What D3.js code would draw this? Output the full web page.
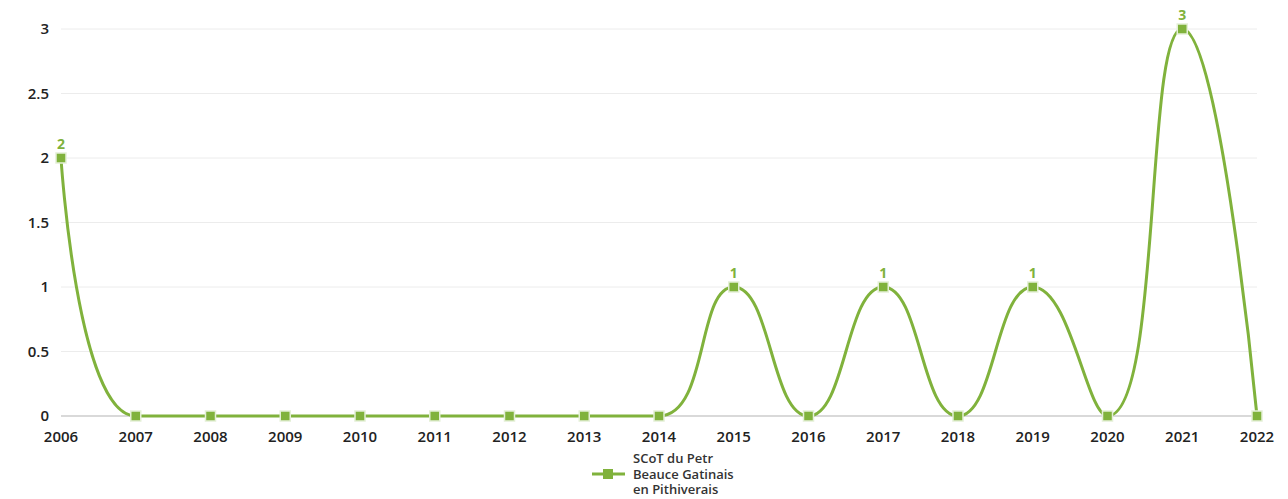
<!DOCTYPE html>
<html><head><meta charset="utf-8">
<script src="https://cdn.jsdelivr.net/npm/d3@7"></script>
<style>
html,body{margin:0;padding:0;background:#fff;}
svg{display:block;}
text{font-family:"Open Sans",sans-serif;}
</style></head>
<body>
<svg id="chart" width="1288" height="499"></svg>
<script>
const years = [2006,2007,2008,2009,2010,2011,2012,2013,2014,2015,2016,2017,2018,2019,2020,2021,2022];
const values = [2,0,0,0,0,0,0,0,0,1,0,1,0,1,0,3,0];
const yTicks = [0,0.5,1,1.5,2,2.5,3];
const seriesName = ["SCoT du Petr","Beauce Gatinais","en Pithiverais"];

const svg = d3.select("#chart");
const green = "#80b23c";

const x = d3.scaleLinear().domain([2006,2022]).range([61,1257]);
const y = d3.scaleLinear().domain([0,3]).range([416,29]);

// smooth curve (length-ratio control points, clamped to avoid overshoot)
function curveSmooth(context){
  let pts = [];
  const smooth = 0.5;
  return {
    areaStart(){}, areaEnd(){},
    lineStart(){ pts = []; },
    point(px,py){ pts.push([+px,+py]); },
    lineEnd(){
      const n = pts.length;
      if(!n) return;
      let cpx0 = pts[0][0], cpy0 = pts[0][1], cpx1, cpy1;
      context.moveTo(pts[0][0], pts[0][1]);
      for(let i=1;i<n;i++){
        const [px,py] = pts[i-1], [cx,cy] = pts[i];
        let ncx, ncy;
        if(i === n-1){
          ncx = cx; ncy = cy; cpx1 = cx; cpy1 = cy;
        } else {
          const [nx,ny] = pts[i+1];
          let vx = nx - px, vy = ny - py;
          const dx0 = cx-px, dy0 = cy-py, dx1 = nx-cx, dy1 = ny-cy;
          const lp = Math.sqrt(dx0*dx0+dy0*dy0), ln = Math.sqrt(dx1*dx1+dy1*dy1);
          const r = ln/(ln+lp);
          cpx1 = cx + vx*smooth*r; cpy1 = cy + vy*smooth*r;
          cpx1 = Math.max(Math.min(cpx1, Math.max(nx,cx)), Math.min(nx,cx));
          cpy1 = Math.max(Math.min(cpy1, Math.max(ny,cy)), Math.min(ny,cy));
          vx = cpx1 - cx; vy = cpy1 - cy;
          ncx = cx - vx*lp/ln; ncy = cy - vy*lp/ln;
          ncx = Math.max(Math.min(ncx, Math.max(px,cx)), Math.min(px,cx));
          ncy = Math.max(Math.min(ncy, Math.max(py,cy)), Math.min(py,cy));
          vx = cx - ncx; vy = cy - ncy;
          cpx1 = cx + vx*ln/lp; cpy1 = cy + vy*ln/lp;
        }
        context.bezierCurveTo(cpx0, cpy0, ncx, ncy, cx, cy);
        cpx0 = cpx1; cpy0 = cpy1;
      }
    }
  };
}

// gridlines
svg.append("g").selectAll("line").data(yTicks.filter(d=>d>0)).join("line")
  .attr("x1",61).attr("x2",1257)
  .attr("y1",d=>y(d)).attr("y2",d=>y(d))
  .attr("stroke","#ececec").attr("stroke-width",1);
// baseline
svg.append("line").attr("x1",61).attr("x2",1257).attr("y1",y(0)).attr("y2",y(0))
  .attr("stroke","#b3b3b3").attr("stroke-width",1);

// y labels
svg.append("g").selectAll("text").data(yTicks).join("text")
  .attr("x",49).attr("y",d=>y(d)+5)
  .attr("text-anchor","end")
  .attr("font-size",15).attr("font-weight",600).attr("fill","#222")
  .text(d=>d);

// x labels
svg.append("g").selectAll("text").data(years).join("text")
  .attr("x",d=>x(d)).attr("y",442)
  .attr("text-anchor","middle")
  .attr("font-size",15).attr("font-weight",600).attr("fill","#222")
  .text(d=>d);

const data = years.map((yr,i)=>({yr,v:values[i]}));
const line = d3.line().x(d=>x(d.yr)).y(d=>y(d.v)).curve(curveSmooth);
svg.append("path").datum(data).attr("d",line)
  .attr("fill","none").attr("stroke",green).attr("stroke-width",3);

// markers
svg.append("g").selectAll("rect").data(data).join("rect")
  .attr("x",d=>x(d.yr)-5).attr("y",d=>y(d.v)-5)
  .attr("width",10).attr("height",10)
  .attr("fill",green).attr("stroke","#e4efd6").attr("stroke-width",1.5);

// data labels
svg.append("g").selectAll("text").data(data.filter(d=>d.v>0)).join("text")
  .attr("x",d=>x(d.yr)).attr("y",d=>y(d.v)-9)
  .attr("text-anchor","middle")
  .attr("font-size",14).attr("font-weight",700).attr("fill",green)
  .text(d=>d.v);

// legend
const lg = svg.append("g");
lg.append("line").attr("x1",592).attr("x2",625).attr("y1",474).attr("y2",474)
  .attr("stroke",green).attr("stroke-width",3);
lg.append("rect").attr("x",603).attr("y",469).attr("width",10).attr("height",10)
  .attr("fill",green);
const lt = lg.append("text").attr("x",633).attr("y",463)
  .attr("font-size",13).attr("font-weight",600).attr("fill","#333");
lt.selectAll("tspan").data(seriesName).join("tspan")
  .attr("x",633).attr("dy",(d,i)=>i===0?0:15.5)
  .text(d=>d);
</script>
</body></html>
